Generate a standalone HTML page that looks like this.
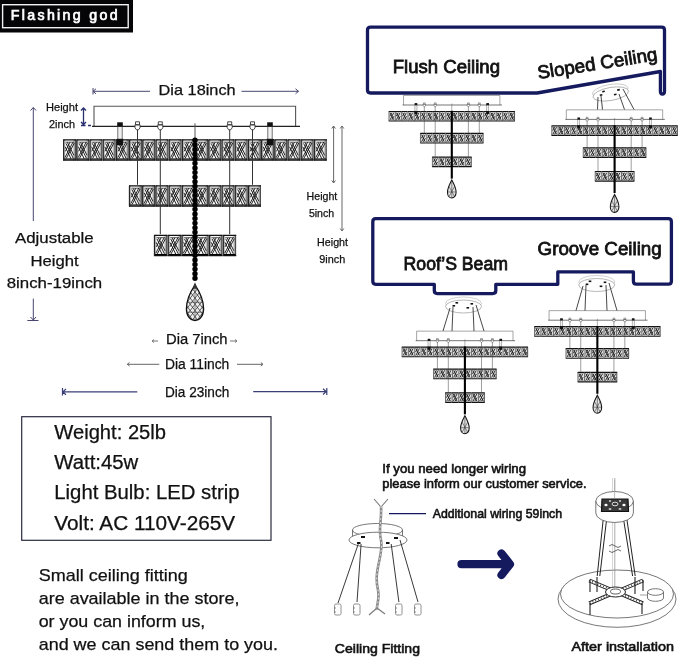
<!DOCTYPE html>
<html><head><meta charset="utf-8"><style>
html,body{margin:0;padding:0;background:#fff;}
svg{display:block;will-change:transform;}
</style></head><body>
<svg width="679" height="657" viewBox="0 0 679 657">
<rect width="679" height="657" fill="#fff"/>

<defs>
 <g id="cr">
  <linearGradient id="cg" x1="0" x2="1" y1="0" y2="0">
   <stop offset="0" stop-color="#666"/><stop offset="0.2" stop-color="#fafafa"/><stop offset="0.72" stop-color="#f6f6f6"/><stop offset="0.88" stop-color="#aaa"/><stop offset="1" stop-color="#111"/>
  </linearGradient>
  <rect x="0.3" y="0.6" width="12.6" height="21" fill="url(#cg)"/>
  <path d="M0.2 1 H13 M0.2 21.3 H13" stroke="#111" stroke-width="1.2"/>
  <path d="M0.6 1 V21.6" stroke="#222" stroke-width="1.1"/>
  <path d="M2.5 3.4 H11" stroke="#222" stroke-width="0.7"/>
  <path d="M10 3.2 L2 18.8 M11.3 4.2 L3.3 19.6 M3 4.6 L10.2 19.4 M2.2 8 L8 20 M4.4 3.6 L10.8 16.5 M7 3.4 L2.4 12.5" stroke="#111" stroke-width="0.9" fill="none"/>
  <path d="M1 20.2 H12.4" stroke="#000" stroke-width="1.1"/>
 </g>
 <clipPath id="dc"><path d="M0 158.5 C-3 163 -8.6 173 -8.6 182.5 C-8.6 190 -4.5 194.2 0 194.2 C4.5 194.2 8.6 190 8.6 182.5 C8.6 173 3 163 0 158.5Z"/></clipPath>
 <g id="drop">
  <path d="M0 158.5 C-3 163 -8.6 173 -8.6 182.5 C-8.6 190 -4.5 194.2 0 194.2 C4.5 194.2 8.6 190 8.6 182.5 C8.6 173 3 163 0 158.5Z" fill="#eee"/>
  <g clip-path="url(#dc)"><path d="M-33.2 160 L-5.2 196 M-5.2 160 L-33.2 196 M-28.4 160 L-0.4 196 M-0.4 160 L-28.4 196 M-23.6 160 L4.4 196 M4.4 160 L-23.6 196 M-18.8 160 L9.2 196 M9.2 160 L-18.8 196 M-14.0 160 L14.0 196 M14.0 160 L-14.0 196 M-9.2 160 L18.8 196 M18.8 160 L-9.2 196 M-4.4 160 L23.6 196 M23.6 160 L-4.4 196 M0.4 160 L28.4 196 M28.4 160 L0.4 196 M5.2 160 L33.2 196 M33.2 160 L5.2 196" stroke="#222" stroke-width="0.7" fill="none"/><path d="M-9 176 H9 M-9 186 H9 M0 158 V195" stroke="#444" stroke-width="0.6"/></g>
  <path d="M0 158.5 C-3 163 -8.6 173 -8.6 182.5 C-8.6 190 -4.5 194.2 0 194.2 C4.5 194.2 8.6 190 8.6 182.5 C8.6 173 3 163 0 158.5Z" fill="none" stroke="#111" stroke-width="1.3"/>
  <path d="M-2.5 162.5 L0 156 L2.5 162.5 Z" fill="#333"/>
 </g>
 <g id="dropm">
  <path d="M0 157 C-3 163 -9 173 -9 182.5 C-9 190 -4.8 194.5 0 194.5 C4.8 194.5 9 190 9 182.5 C9 173 3 163 0 157Z" fill="#e4e4e4" stroke="#111" stroke-width="2.2"/>
  <path d="M-6 170 L6 192 M6 170 L-6 192 M-8 182 H8 M0 160 V194" stroke="#333" stroke-width="1.2"/>
 </g>
 <g id="crm">
  <rect x="0" y="1" width="13.2" height="20" fill="#e2e2e2"/>
  <path d="M3 3.5 L10.5 18.5 M10.5 3.5 L3 18.5 M2.5 11 L6.6 3.5 M6.6 18.5 L11 11" stroke="#1a1a1a" stroke-width="1.8" fill="none"/>
  <path d="M0 1 H13.2 M0 21 H13.2" stroke="#111" stroke-width="2.4"/>
  <path d="M0.6 1 V21" stroke="#333" stroke-width="1.4"/>
 </g>
 <g id="fix">
 <path d="M-101 0 V-20 H100.6 V0" fill="none" stroke="#555" stroke-width="1.1"/>
<line x1="-103" y1="0" x2="105" y2="0" stroke="#222" stroke-width="1.3"/>
<rect x="-77.2" y="0" width="4.4" height="14" fill="#f0f0f0" stroke="#666" stroke-width="0.9"/>
<rect x="72.8" y="0" width="4.4" height="14" fill="#f0f0f0" stroke="#666" stroke-width="0.9"/>
<use href="#cr" transform="translate(-132.00,12.50) scale(1.0000,1.0000)"/>
<use href="#cr" transform="translate(-118.80,12.50) scale(1.0000,1.0000)"/>
<use href="#cr" transform="translate(-105.60,12.50) scale(1.0000,1.0000)"/>
<use href="#cr" transform="translate(-92.40,12.50) scale(1.0000,1.0000)"/>
<use href="#cr" transform="translate(-79.20,12.50) scale(1.0000,1.0000)"/>
<use href="#cr" transform="translate(-66.00,12.50) scale(1.0000,1.0000)"/>
<use href="#cr" transform="translate(-52.80,12.50) scale(1.0000,1.0000)"/>
<use href="#cr" transform="translate(-39.60,12.50) scale(1.0000,1.0000)"/>
<use href="#cr" transform="translate(-26.40,12.50) scale(1.0000,1.0000)"/>
<use href="#cr" transform="translate(-13.20,12.50) scale(1.0000,1.0000)"/>
<use href="#cr" transform="translate(0.00,12.50) scale(1.0000,1.0000)"/>
<use href="#cr" transform="translate(13.20,12.50) scale(1.0000,1.0000)"/>
<use href="#cr" transform="translate(26.40,12.50) scale(1.0000,1.0000)"/>
<use href="#cr" transform="translate(39.60,12.50) scale(1.0000,1.0000)"/>
<use href="#cr" transform="translate(52.80,12.50) scale(1.0000,1.0000)"/>
<use href="#cr" transform="translate(66.00,12.50) scale(1.0000,1.0000)"/>
<use href="#cr" transform="translate(79.20,12.50) scale(1.0000,1.0000)"/>
<use href="#cr" transform="translate(92.40,12.50) scale(1.0000,1.0000)"/>
<use href="#cr" transform="translate(105.60,12.50) scale(1.0000,1.0000)"/>
<use href="#cr" transform="translate(118.80,12.50) scale(1.0000,1.0000)"/>
<use href="#cr" transform="translate(-66.20,58.50) scale(1.0030,1.0000)"/>
<use href="#cr" transform="translate(-52.96,58.50) scale(1.0030,1.0000)"/>
<use href="#cr" transform="translate(-39.72,58.50) scale(1.0030,1.0000)"/>
<use href="#cr" transform="translate(-26.48,58.50) scale(1.0030,1.0000)"/>
<use href="#cr" transform="translate(-13.24,58.50) scale(1.0030,1.0000)"/>
<use href="#cr" transform="translate(0.00,58.50) scale(1.0030,1.0000)"/>
<use href="#cr" transform="translate(13.24,58.50) scale(1.0030,1.0000)"/>
<use href="#cr" transform="translate(26.48,58.50) scale(1.0030,1.0000)"/>
<use href="#cr" transform="translate(39.72,58.50) scale(1.0030,1.0000)"/>
<use href="#cr" transform="translate(52.96,58.50) scale(1.0030,1.0000)"/>
<use href="#cr" transform="translate(-41.20,108.00) scale(1.0432,1.0000)"/>
<use href="#cr" transform="translate(-27.43,108.00) scale(1.0432,1.0000)"/>
<use href="#cr" transform="translate(-13.66,108.00) scale(1.0432,1.0000)"/>
<use href="#cr" transform="translate(0.11,108.00) scale(1.0432,1.0000)"/>
<use href="#cr" transform="translate(13.88,108.00) scale(1.0432,1.0000)"/>
<use href="#cr" transform="translate(27.65,108.00) scale(1.0432,1.0000)"/>
<line x1="-57.5" y1="0" x2="-57.5" y2="58.5" stroke="#333" stroke-width="1"/>
<path d="M-60.0 -1.5 h5 v3 l-1.5 2 h-2 l-1.5 -2 z M-59.5 -4.5 h4 v3 h-4 z" fill="#fff" stroke="#333" stroke-width="0.9"/>
<line x1="57.5" y1="0" x2="57.5" y2="58.5" stroke="#333" stroke-width="1"/>
<path d="M55.0 -1.5 h5 v3 l-1.5 2 h-2 l-1.5 -2 z M55.5 -4.5 h4 v3 h-4 z" fill="#fff" stroke="#333" stroke-width="0.9"/>
<line x1="-34.7" y1="0" x2="-34.7" y2="108" stroke="#333" stroke-width="1"/>
<path d="M-37.2 -1.5 h5 v3 l-1.5 2 h-2 l-1.5 -2 z M-36.7 -4.5 h4 v3 h-4 z" fill="#fff" stroke="#333" stroke-width="0.9"/>
<line x1="34.7" y1="0" x2="34.7" y2="108" stroke="#333" stroke-width="1"/>
<path d="M32.2 -1.5 h5 v3 l-1.5 2 h-2 l-1.5 -2 z M32.7 -4.5 h4 v3 h-4 z" fill="#fff" stroke="#333" stroke-width="0.9"/>
<rect x="-77.8" y="-4" width="5.6" height="4.5" fill="#111"/>
<rect x="-78.2" y="12.5" width="6.4" height="6.5" fill="#111"/>
<rect x="72.2" y="-4" width="5.6" height="4.5" fill="#111"/>
<rect x="71.8" y="12.5" width="6.4" height="6.5" fill="#111"/>
<line x1="0" y1="-3" x2="0" y2="12" stroke="#555" stroke-width="1"/>
<line x1="0" y1="14" x2="0" y2="152" stroke="#000" stroke-width="5.4" stroke-dasharray="0 4.6" stroke-linecap="round"/>
<line x1="0" y1="12" x2="0" y2="153" stroke="#000" stroke-width="1.6"/>
<use href="#drop"/>
 </g>
 <g id="fixm">
 <path d="M-101 0 V-20 H100.6 V0" fill="none" stroke="#555" stroke-width="1.1"/>
<line x1="-103" y1="0" x2="105" y2="0" stroke="#222" stroke-width="1.3"/>
<rect x="-77.2" y="0" width="4.4" height="14" fill="#f0f0f0" stroke="#666" stroke-width="0.9"/>
<rect x="72.8" y="0" width="4.4" height="14" fill="#f0f0f0" stroke="#666" stroke-width="0.9"/>
<use href="#crm" transform="translate(-132.00,12.50) scale(1.0000,1.0000)"/>
<use href="#crm" transform="translate(-118.80,12.50) scale(1.0000,1.0000)"/>
<use href="#crm" transform="translate(-105.60,12.50) scale(1.0000,1.0000)"/>
<use href="#crm" transform="translate(-92.40,12.50) scale(1.0000,1.0000)"/>
<use href="#crm" transform="translate(-79.20,12.50) scale(1.0000,1.0000)"/>
<use href="#crm" transform="translate(-66.00,12.50) scale(1.0000,1.0000)"/>
<use href="#crm" transform="translate(-52.80,12.50) scale(1.0000,1.0000)"/>
<use href="#crm" transform="translate(-39.60,12.50) scale(1.0000,1.0000)"/>
<use href="#crm" transform="translate(-26.40,12.50) scale(1.0000,1.0000)"/>
<use href="#crm" transform="translate(-13.20,12.50) scale(1.0000,1.0000)"/>
<use href="#crm" transform="translate(0.00,12.50) scale(1.0000,1.0000)"/>
<use href="#crm" transform="translate(13.20,12.50) scale(1.0000,1.0000)"/>
<use href="#crm" transform="translate(26.40,12.50) scale(1.0000,1.0000)"/>
<use href="#crm" transform="translate(39.60,12.50) scale(1.0000,1.0000)"/>
<use href="#crm" transform="translate(52.80,12.50) scale(1.0000,1.0000)"/>
<use href="#crm" transform="translate(66.00,12.50) scale(1.0000,1.0000)"/>
<use href="#crm" transform="translate(79.20,12.50) scale(1.0000,1.0000)"/>
<use href="#crm" transform="translate(92.40,12.50) scale(1.0000,1.0000)"/>
<use href="#crm" transform="translate(105.60,12.50) scale(1.0000,1.0000)"/>
<use href="#crm" transform="translate(118.80,12.50) scale(1.0000,1.0000)"/>
<line x1="131.30" y1="13.50" x2="131.30" y2="33.50" stroke="#222" stroke-width="1.6"/>
<use href="#crm" transform="translate(-66.20,58.50) scale(1.0030,1.0000)"/>
<use href="#crm" transform="translate(-52.96,58.50) scale(1.0030,1.0000)"/>
<use href="#crm" transform="translate(-39.72,58.50) scale(1.0030,1.0000)"/>
<use href="#crm" transform="translate(-26.48,58.50) scale(1.0030,1.0000)"/>
<use href="#crm" transform="translate(-13.24,58.50) scale(1.0030,1.0000)"/>
<use href="#crm" transform="translate(0.00,58.50) scale(1.0030,1.0000)"/>
<use href="#crm" transform="translate(13.24,58.50) scale(1.0030,1.0000)"/>
<use href="#crm" transform="translate(26.48,58.50) scale(1.0030,1.0000)"/>
<use href="#crm" transform="translate(39.72,58.50) scale(1.0030,1.0000)"/>
<use href="#crm" transform="translate(52.96,58.50) scale(1.0030,1.0000)"/>
<line x1="65.50" y1="59.50" x2="65.50" y2="79.50" stroke="#222" stroke-width="1.6"/>
<use href="#crm" transform="translate(-41.20,108.00) scale(1.0432,1.0000)"/>
<use href="#crm" transform="translate(-27.43,108.00) scale(1.0432,1.0000)"/>
<use href="#crm" transform="translate(-13.66,108.00) scale(1.0432,1.0000)"/>
<use href="#crm" transform="translate(0.11,108.00) scale(1.0432,1.0000)"/>
<use href="#crm" transform="translate(13.88,108.00) scale(1.0432,1.0000)"/>
<use href="#crm" transform="translate(27.65,108.00) scale(1.0432,1.0000)"/>
<line x1="40.72" y1="109.00" x2="40.72" y2="129.00" stroke="#222" stroke-width="1.6"/>
<line x1="-57.5" y1="0" x2="-57.5" y2="58.5" stroke="#333" stroke-width="1"/>
<path d="M-60.0 -1.5 h5 v3 l-1.5 2 h-2 l-1.5 -2 z M-59.5 -4.5 h4 v3 h-4 z" fill="#fff" stroke="#333" stroke-width="0.9"/>
<line x1="57.5" y1="0" x2="57.5" y2="58.5" stroke="#333" stroke-width="1"/>
<path d="M55.0 -1.5 h5 v3 l-1.5 2 h-2 l-1.5 -2 z M55.5 -4.5 h4 v3 h-4 z" fill="#fff" stroke="#333" stroke-width="0.9"/>
<line x1="-34.7" y1="0" x2="-34.7" y2="108" stroke="#333" stroke-width="1"/>
<path d="M-37.2 -1.5 h5 v3 l-1.5 2 h-2 l-1.5 -2 z M-36.7 -4.5 h4 v3 h-4 z" fill="#fff" stroke="#333" stroke-width="0.9"/>
<line x1="34.7" y1="0" x2="34.7" y2="108" stroke="#333" stroke-width="1"/>
<path d="M32.2 -1.5 h5 v3 l-1.5 2 h-2 l-1.5 -2 z M32.7 -4.5 h4 v3 h-4 z" fill="#fff" stroke="#333" stroke-width="0.9"/>
<rect x="-77.8" y="-4" width="5.6" height="4.5" fill="#111"/>
<rect x="-78.2" y="12.5" width="6.4" height="6.5" fill="#111"/>
<rect x="72.2" y="-4" width="5.6" height="4.5" fill="#111"/>
<rect x="71.8" y="12.5" width="6.4" height="6.5" fill="#111"/>
<line x1="0" y1="-3" x2="0" y2="12" stroke="#555" stroke-width="1"/>
<line x1="0" y1="12" x2="0" y2="154" stroke="#000" stroke-width="4.4"/>
<use href="#dropm"/>
 </g>
</defs>

<rect x="0" y="0" width="133" height="32.5" fill="#050508"/>
<rect x="2.6" y="4.7" width="125.6" height="23" fill="none" stroke="#f2f2f2" stroke-width="1.4"/>
<text x="10.8" y="20.2" font-family='"Liberation Sans", sans-serif' font-weight="normal" font-size="14.2" fill="#fff" stroke="#fff" stroke-width="0.7" textLength="106.8" lengthAdjust="spacing">Flashing god</text>
<use href="#fix" transform="translate(195,126.3)"/>
<g stroke="#46466e" stroke-width="1" fill="none">
<path d="M93 91.3 H150 M241.5 91.3 H298.5 M96 88.8 L93 91.3 L96 93.8 M295.5 88.8 L298.5 91.3 L295.5 93.8 M93 88 V94.5"/>
<path d="M83.5 108 V124.5 M81 110.5 L83.5 108 L86 110.5 M81 122 L83.5 124.5 L86 122 M81 125.5 H85.5 M88 125.5 H91" stroke="#2a2f70" stroke-width="1.3"/>
<path d="M33.3 107.5 V221 M30.5 110.5 L33.3 107.5 L36 110.5"/>
<path d="M33.3 298.6 V320 M30.5 317 L33.3 320 L36 317 M27.4 320.5 H38.5"/>
<path d="M333.6 126 V183 M331.8 128.5 L333.6 126 L335.4 128.5 M331.8 180.5 L333.6 183 L335.4 180.5" stroke="#666"/>
<path d="M342 126 V231 M340.2 128.5 L342 126 L343.8 128.5 M340.2 228.5 L342 231 L343.8 228.5" stroke="#666"/>
<path d="M152 341 H158 M154 339.5 L152 341 L154 342.5 M230 341 H237 M235 339.5 L237 341 L235 342.5" stroke="#777"/>
<path d="M127.3 364.3 H159.3 M129.5 362.5 L127.3 364.3 L129.5 366 M237 364.3 H263 M260.8 362.5 L263 364.3 L260.8 366" stroke="#666"/>
<path d="M62.8 391.9 H137.3 M66 389 L62.8 391.9 L66 394.8 M253.2 391.6 H326.2 M323 388.7 L326.2 391.6 L323 394.5 M62.5 388 V395.5 M326.8 388 V395" stroke="#3a3f78" stroke-width="1.2"/>
</g>
<text x="158.6" y="95.2" font-family='"Liberation Sans", sans-serif' font-size="14.5" font-weight="normal" fill="#111" text-anchor="start" textLength="77" lengthAdjust="spacingAndGlyphs" stroke="#111" stroke-width="0.25">Dia 18inch</text>
<text x="46" y="111" font-family='"Liberation Sans", sans-serif' font-size="11" font-weight="normal" fill="#111" text-anchor="start" textLength="32" lengthAdjust="spacingAndGlyphs" stroke="#111" stroke-width="0.25">Height</text>
<text x="49" y="128" font-family='"Liberation Sans", sans-serif' font-size="11" font-weight="normal" fill="#111" text-anchor="start" textLength="26" lengthAdjust="spacingAndGlyphs" stroke="#111" stroke-width="0.25">2inch</text>
<text x="15" y="243.3" font-family='"Liberation Sans", sans-serif' font-size="15.2" font-weight="normal" fill="#111" text-anchor="start" textLength="78.7" lengthAdjust="spacingAndGlyphs" stroke="#111" stroke-width="0.25">Adjustable</text>
<text x="30.4" y="265.6" font-family='"Liberation Sans", sans-serif' font-size="15.2" font-weight="normal" fill="#111" text-anchor="start" textLength="48.2" lengthAdjust="spacingAndGlyphs" stroke="#111" stroke-width="0.25">Height</text>
<text x="6.7" y="288" font-family='"Liberation Sans", sans-serif' font-size="15.2" font-weight="normal" fill="#111" text-anchor="start" textLength="95.5" lengthAdjust="spacingAndGlyphs" stroke="#111" stroke-width="0.25">8inch-19inch</text>
<text x="306.6" y="199.9" font-family='"Liberation Sans", sans-serif' font-size="10.5" font-weight="normal" fill="#111" text-anchor="start" textLength="30.7" lengthAdjust="spacingAndGlyphs" stroke="#111" stroke-width="0.25">Height</text>
<text x="308.9" y="217" font-family='"Liberation Sans", sans-serif' font-size="10.5" font-weight="normal" fill="#111" text-anchor="start" textLength="25.3" lengthAdjust="spacingAndGlyphs" stroke="#111" stroke-width="0.25">5inch</text>
<text x="317.1" y="246.2" font-family='"Liberation Sans", sans-serif' font-size="10.5" font-weight="normal" fill="#111" text-anchor="start" textLength="30.9" lengthAdjust="spacingAndGlyphs" stroke="#111" stroke-width="0.25">Height</text>
<text x="319.2" y="262.9" font-family='"Liberation Sans", sans-serif' font-size="10.5" font-weight="normal" fill="#111" text-anchor="start" textLength="26" lengthAdjust="spacingAndGlyphs" stroke="#111" stroke-width="0.25">9inch</text>
<text x="166" y="344.4" font-family='"Liberation Sans", sans-serif' font-size="14" font-weight="normal" fill="#111" text-anchor="start" textLength="61.6" lengthAdjust="spacingAndGlyphs" stroke="#111" stroke-width="0.25">Dia 7inch</text>
<text x="164.9" y="368.7" font-family='"Liberation Sans", sans-serif' font-size="14" font-weight="normal" fill="#111" text-anchor="start" textLength="64.4" lengthAdjust="spacingAndGlyphs" stroke="#111" stroke-width="0.25">Dia 11inch</text>
<text x="164.9" y="397" font-family='"Liberation Sans", sans-serif' font-size="14" font-weight="normal" fill="#111" text-anchor="start" textLength="64.4" lengthAdjust="spacingAndGlyphs" stroke="#111" stroke-width="0.25">Dia 23inch</text>
<path d="M537 93 L660.4 71.5 V91.5 Q660.4 94 662.4 94 Q664.5 94 664.5 91.5 V30 Q664.5 27.2 661.5 27.2 H370.5 Q367.5 27.2 367.5 30.2 V90 Q367.5 93 370.5 93 Z" fill="none" stroke="#151a5e" stroke-width="3.3" stroke-linejoin="round"/>
<path d="M434.3 284.3 V290.6 Q434.3 293.6 437.3 293.6 H492.8 Q495.8 293.6 495.8 290.6 V284.3 H557.8 V271.9 H633.4 V281 Q633.4 284.2 636.4 284.2 H668.4 Q671.4 284.2 671.4 281.2 V221.7 Q671.4 218.7 668.4 218.7 H375.8 Q372.8 218.7 372.8 221.7 V281.3 Q372.8 284.3 375.8 284.3 Z" fill="none" stroke="#151a5e" stroke-width="3.3" stroke-linejoin="round"/>
<text x="392.7" y="72.8" font-family='"Liberation Sans", sans-serif' font-size="18.5" font-weight="normal" fill="#111" text-anchor="start" textLength="107.3" lengthAdjust="spacingAndGlyphs" stroke="#111" stroke-width="0.8">Flush Ceiling</text>
<g transform="translate(538.5,79) rotate(-9)"><text x="0" y="0" font-family='"Liberation Sans", sans-serif' font-size="18.5" font-weight="normal" fill="#111" text-anchor="start" textLength="121" lengthAdjust="spacingAndGlyphs" stroke="#111" stroke-width="0.8">Sloped Ceiling</text></g>
<text x="403.6" y="269.8" font-family='"Liberation Sans", sans-serif' font-size="18.5" font-weight="normal" fill="#111" text-anchor="start" textLength="104.4" lengthAdjust="spacingAndGlyphs" stroke="#111" stroke-width="0.8">Roof’S Beam</text>
<text x="537.6" y="254.6" font-family='"Liberation Sans", sans-serif' font-size="18.5" font-weight="normal" fill="#111" text-anchor="start" textLength="124.1" lengthAdjust="spacingAndGlyphs" stroke="#111" stroke-width="0.8">Groove Ceiling</text>
<use href="#fixm" transform="translate(451.8,105) scale(0.478)"/>
<use href="#fixm" transform="translate(614.6,119.4) scale(0.478)"/>
<use href="#fixm" transform="translate(464.9,340.7) scale(0.478)"/>
<use href="#fixm" transform="translate(597.35,320.2) scale(0.478)"/>
<g transform="translate(610.5,92.5) rotate(-10)"><ellipse cx="0" cy="-1.5" rx="18" ry="6.5" fill="#fff" stroke="#bbb" stroke-width="0.7"/><ellipse cx="0" cy="1.5" rx="18" ry="6.5" fill="#fff" stroke="#999" stroke-width="0.7"/><rect x="-11" y="0" width="2.6" height="1.6" fill="#111"/><rect x="7" y="-2" width="2.6" height="1.6" fill="#111"/><rect x="-8" y="-3" width="2.6" height="1.6" fill="#111"/><rect x="3" y="2" width="2.6" height="1.6" fill="#111"/></g>
<path d="M598 97 L597.5 109.5 M601 96 L602.5 109.5 M619 94 L624.5 109.5 M623 89 L634 109.5" stroke="#333" stroke-width="0.9" fill="none"/>
<g transform="translate(463.5,305) rotate(0)"><ellipse cx="0" cy="-1.5" rx="18" ry="6.5" fill="#fff" stroke="#bbb" stroke-width="0.7"/><ellipse cx="0" cy="1.5" rx="18" ry="6.5" fill="#fff" stroke="#999" stroke-width="0.7"/><rect x="-11" y="0" width="2.6" height="1.6" fill="#111"/><rect x="7" y="-2" width="2.6" height="1.6" fill="#111"/><rect x="-8" y="-3" width="2.6" height="1.6" fill="#111"/><rect x="3" y="2" width="2.6" height="1.6" fill="#111"/></g>
<path d="M450 308 L443 331 M453 307 L452 331 M473 307 L474 331 M476 305 L484 331" stroke="#333" stroke-width="0.9" fill="none"/>
<g transform="translate(596.7,283.5) rotate(0)"><ellipse cx="0" cy="-1.5" rx="18" ry="6.5" fill="#fff" stroke="#bbb" stroke-width="0.7"/><ellipse cx="0" cy="1.5" rx="18" ry="6.5" fill="#fff" stroke="#999" stroke-width="0.7"/><rect x="-11" y="0" width="2.6" height="1.6" fill="#111"/><rect x="7" y="-2" width="2.6" height="1.6" fill="#111"/><rect x="-8" y="-3" width="2.6" height="1.6" fill="#111"/><rect x="3" y="2" width="2.6" height="1.6" fill="#111"/></g>
<path d="M583 286 L576 310.6 M586 285 L585 310.6 M606 285 L607 310.6 M609 283 L617 310.6" stroke="#333" stroke-width="0.9" fill="none"/>
<rect x="21.7" y="416.7" width="249.3" height="123.6" fill="none" stroke="#2b2b40" stroke-width="1.2"/>
<text x="54.3" y="438.7" font-family='"Liberation Sans", sans-serif' font-size="19.5" font-weight="normal" fill="#111" text-anchor="start" textLength="111.7" lengthAdjust="spacingAndGlyphs" stroke="#111" stroke-width="0.25">Weight: 25lb</text>
<text x="54.3" y="468.9" font-family='"Liberation Sans", sans-serif' font-size="19.5" font-weight="normal" fill="#111" text-anchor="start" textLength="84" lengthAdjust="spacingAndGlyphs" stroke="#111" stroke-width="0.25">Watt:45w</text>
<text x="54.3" y="499.4" font-family='"Liberation Sans", sans-serif' font-size="19.5" font-weight="normal" fill="#111" text-anchor="start" textLength="185.2" lengthAdjust="spacingAndGlyphs" stroke="#111" stroke-width="0.25">Light Bulb: LED strip</text>
<text x="54.3" y="530.3" font-family='"Liberation Sans", sans-serif' font-size="19.5" font-weight="normal" fill="#111" text-anchor="start" textLength="180.9" lengthAdjust="spacingAndGlyphs" stroke="#111" stroke-width="0.25">Volt: AC 110V-265V</text>
<text x="38.7" y="580.6" font-family='"Liberation Sans", sans-serif' font-size="17" font-weight="normal" fill="#111" text-anchor="start" textLength="149.1" lengthAdjust="spacingAndGlyphs" stroke="#111" stroke-width="0.25">Small ceiling fitting</text>
<text x="38.7" y="603.7" font-family='"Liberation Sans", sans-serif' font-size="17" font-weight="normal" fill="#111" text-anchor="start" textLength="200.7" lengthAdjust="spacingAndGlyphs" stroke="#111" stroke-width="0.25">are available in the store,</text>
<text x="38.7" y="627" font-family='"Liberation Sans", sans-serif' font-size="17" font-weight="normal" fill="#111" text-anchor="start" textLength="166.6" lengthAdjust="spacingAndGlyphs" stroke="#111" stroke-width="0.25">or you can inform us,</text>
<text x="38.7" y="650.1" font-family='"Liberation Sans", sans-serif' font-size="17" font-weight="normal" fill="#111" text-anchor="start" textLength="239.3" lengthAdjust="spacingAndGlyphs" stroke="#111" stroke-width="0.25">and we can send them to you.</text>
<text x="382.3" y="472.5" font-family='"Liberation Sans", sans-serif' font-size="13" font-weight="normal" fill="#111" text-anchor="start" textLength="143.7" lengthAdjust="spacingAndGlyphs" stroke="#111" stroke-width="0.6">If you need longer wiring</text>
<text x="382.3" y="488.4" font-family='"Liberation Sans", sans-serif' font-size="13" font-weight="normal" fill="#111" text-anchor="start" textLength="204.3" lengthAdjust="spacingAndGlyphs" stroke="#111" stroke-width="0.6">please inform our customer service.</text>
<text x="432.7" y="517.6" font-family='"Liberation Sans", sans-serif' font-size="13" font-weight="normal" fill="#111" text-anchor="start" textLength="129.3" lengthAdjust="spacingAndGlyphs" stroke="#111" stroke-width="0.6">Additional wiring 59inch</text>
<line x1="389" y1="513.6" x2="426" y2="513.6" stroke="#151a5e" stroke-width="1.4"/>
<text x="334.8" y="653" font-family='"Liberation Sans", sans-serif' font-size="13.5" font-weight="normal" fill="#111" text-anchor="start" textLength="85.2" lengthAdjust="spacingAndGlyphs" stroke="#111" stroke-width="0.6">Ceiling Fitting</text>
<text x="571.5" y="651" font-family='"Liberation Sans", sans-serif' font-size="13.5" font-weight="normal" fill="#111" text-anchor="start" textLength="102.4" lengthAdjust="spacingAndGlyphs" stroke="#111" stroke-width="0.6">After installation</text>
<path d="M461.5 564.2 H508 M501.5 553.5 L510 564.2 L501.5 575" fill="none" stroke="#151a5e" stroke-width="8.2" stroke-linecap="round" stroke-linejoin="round"/>
<g fill="none" stroke="#555" stroke-width="0.8">
<ellipse cx="377.5" cy="530" rx="25" ry="6.5"/>
<path d="M352.5 530 V536"/><path d="M402.5 530 V536"/>
<ellipse cx="378" cy="540" rx="29" ry="7.8" fill="#fff"/>
</g>
<path d="M358.2 544.2 L338 603 M361.1 544 L357 602 M391.2 544 L398.9 602 M400 540 L418 602" stroke="#222" stroke-width="0.9" fill="none"/>
<g fill="#111"><rect x="361" y="536" width="4" height="2"/><rect x="357" y="542" width="3.5" height="2"/><rect x="386" y="542" width="3.5" height="2"/><rect x="394" y="537" width="4" height="2"/></g>
<g fill="#fff" stroke="#777" stroke-width="0.8"><rect x="334.5" y="604" width="6.5" height="11" rx="1.5"/><path d="M334 608 h2 M334 612 h2"/></g>
<g fill="#fff" stroke="#777" stroke-width="0.8"><rect x="353.5" y="604" width="6.5" height="11" rx="1.5"/><path d="M353 608 h2 M353 612 h2"/></g>
<g fill="#fff" stroke="#777" stroke-width="0.8"><rect x="395.5" y="604" width="6.5" height="11" rx="1.5"/><path d="M395 608 h2 M395 612 h2"/></g>
<g fill="#fff" stroke="#777" stroke-width="0.8"><rect x="414.5" y="604" width="6.5" height="11" rx="1.5"/><path d="M414 608 h2 M414 612 h2"/></g>
<path d="M374 499 L381 507 L388 499 M377 608 L369 615 M377 608 L385 614" stroke="#777" stroke-width="1.1" fill="none" stroke-linejoin="round"/>
<path d="M381 506 C382 520 378 530 381 540 C384 555 373 570 378 590 C380 600 376 606 377 610" stroke="#888" stroke-width="2.6" fill="none" stroke-linejoin="round"/>
<path d="M381 506 C382 520 378 530 381 540 C384 555 373 570 378 590 C380 600 376 606 377 610" stroke="#e8e8e8" stroke-width="0.9" fill="none" stroke-dasharray="2 2"/>
<g fill="none" stroke="#444" stroke-width="0.8">
<ellipse cx="617" cy="599" rx="59" ry="28.3" stroke="#555"/>
<ellipse cx="617" cy="594" rx="56.5" ry="24" fill="#fff" stroke="#555"/>
<path d="M614.8 478 V588" stroke="#888" stroke-width="0.7"/>
<path d="M612.5 478 V588" stroke="#bbb" stroke-width="0.6"/>
<path d="M604 512 L597.2 576 M607.5 512 L599.8 576 M622.4 512 L632.6 576 M625.8 512 L635.2 576" stroke="#222" stroke-width="1"/>
<path d="M589.3 580.5 L643 603.3 M643 580.5 L589.3 603.3" stroke="#222" stroke-width="4"/>
<path d="M589.3 580.5 L643 603.3 M643 580.5 L589.3 603.3" stroke="#fff" stroke-width="2"/>
<path d="M589.3 580.5 L643 603.3 M643 580.5 L589.3 603.3" stroke="#333" stroke-width="2" stroke-dasharray="0.8 2.2"/>
<ellipse cx="615.5" cy="592" rx="10" ry="5" fill="#fff" stroke="#222" stroke-width="1"/>
<ellipse cx="615.5" cy="591.5" rx="5" ry="2.5" stroke="#333" stroke-width="0.8"/>
<path d="M590 580 V592 M643 580 V591 M590 603 V615 M642 603 V614 M597 577 V592 M635 577 V594" stroke="#222" stroke-width="1.1"/>
<path d="M647.5 592 V598 A8 3.3 0 0 0 663.5 598 V592" fill="#fff" stroke="#555"/>
<ellipse cx="655.5" cy="592" rx="8" ry="3.3" fill="#fff" stroke="#555"/>
<path d="M640 595 H647" stroke="#777" stroke-width="0.7"/>
<path d="M595.8 501 V513 A18.8 9.5 0 0 0 633.4 513 V501" fill="#fff" stroke="#555"/>
<ellipse cx="614.6" cy="501" rx="18.8" ry="9.5" fill="#fff" stroke="#555"/>
</g>
<path d="M614.6 480 V498" stroke="#aaa" stroke-width="0.8"/>
<path d="M602 499 L628 499 L628.5 511.5 L601.5 511.5 Z" fill="#3a3a3a" stroke="#111" stroke-width="1.2"/>
<g fill="#fff" stroke="none"><ellipse cx="606" cy="505" rx="1.6" ry="1.2"/><ellipse cx="615" cy="504" rx="3" ry="1.8" fill="none" stroke="#fff" stroke-width="0.8"/><ellipse cx="624" cy="505" rx="1.6" ry="1.2"/><ellipse cx="610" cy="509" rx="1.5" ry="0.8"/><ellipse cx="620" cy="509" rx="1.5" ry="0.8"/><ellipse cx="610" cy="501" rx="1.2" ry="0.7"/><ellipse cx="620" cy="501" rx="1.2" ry="0.7"/></g>
<path d="M609 546 q3 -3 6 0 q3 3 6 0 M609 551 q3 3 6 0 q3 -3 6 0" stroke="#444" stroke-width="0.8" fill="none"/>
</svg>
</body></html>
